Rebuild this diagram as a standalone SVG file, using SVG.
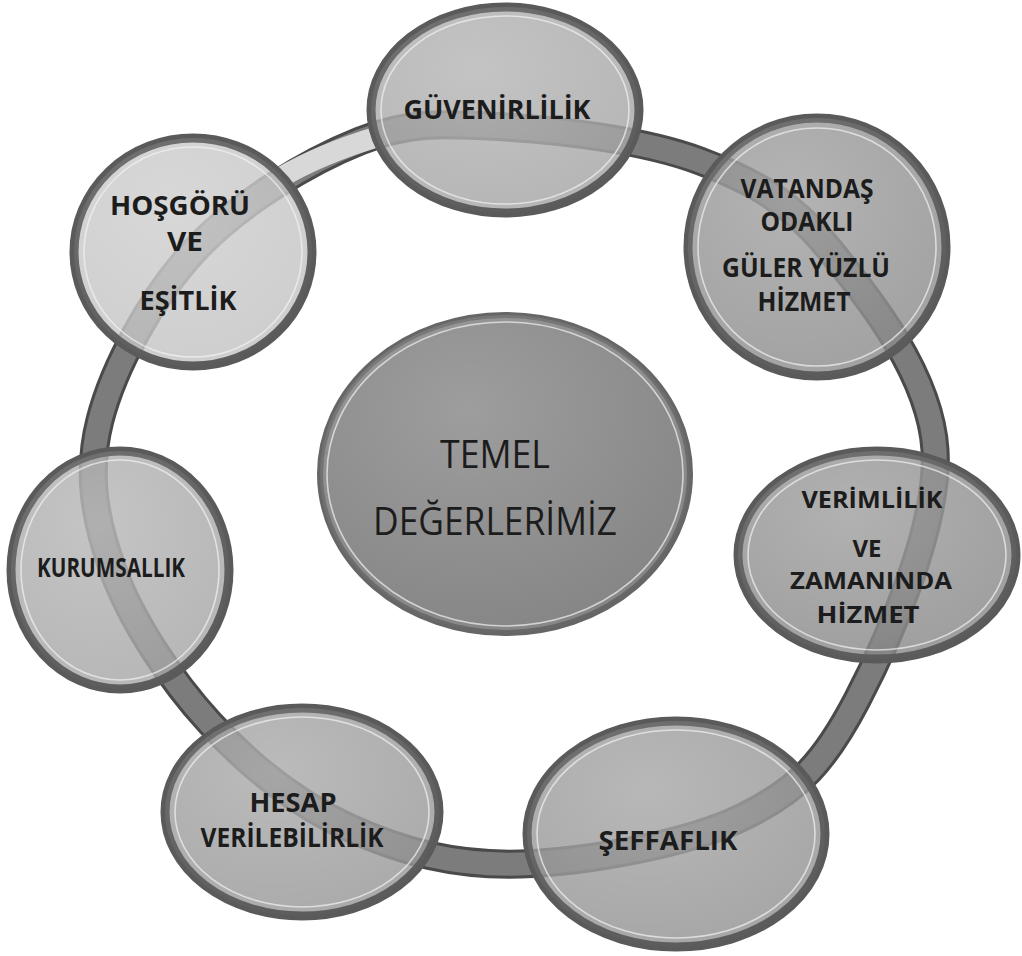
<svg xmlns="http://www.w3.org/2000/svg" width="1022" height="956" viewBox="0 0 1022 956">
<defs>
<radialGradient id="sheen" cx="0.4" cy="0.3" r="0.75">
<stop offset="0" stop-color="#ffffff" stop-opacity="0.2"/>
<stop offset="1" stop-color="#ffffff" stop-opacity="0"/>
</radialGradient>
</defs>
<style>
.rim{stroke:#5a5a5a;stroke-width:9}
.body{fill-opacity:.8}
.sheen{fill:url(#sheen);stroke:none}
.hl{fill:none;stroke:#f2f2f2;stroke-width:1.6;stroke-opacity:.7}
.lbl{font-family:"Open Sans","Liberation Sans",sans-serif;font-weight:700;font-size:26px;fill:#1c1c1c;text-anchor:middle}
.sm{font-size:24px}
.ctr{font-family:"Open Sans","Liberation Sans",sans-serif;font-size:39px;fill:#1c1c1c;text-anchor:middle}
.band-edge{fill:none;stroke:#4a4a4a;stroke-width:29}
.band{fill:none;stroke:#7c7c7c;stroke-width:23}
.band-light{fill:none;stroke:#d8d8d8;stroke-width:21}
</style>
<rect width="1022" height="956" fill="#ffffff"/>
<g id="connectors">
<path id="ring-edge" class="band-edge" d="M505,127 C561.7,130.3 645.8,140.5 700,161 C754.2,181.5 790.8,201.8 830,250 C869.2,298.2 930.5,375 935,450 C939.5,525 889,638.8 857,700 C825,761.2 799.2,789.7 743,817 C686.8,844.3 585.5,862.2 520,864 C454.5,865.8 401.7,851.5 350,828 C298.3,804.5 249.5,766 210,723 C170.5,680 131.3,620.5 113,570 C94.7,519.5 86.3,473.3 100,420 C113.7,366.7 151.7,296.5 195,250 C238.3,203.5 308.3,161.5 360,141 C411.7,120.5 448.3,123.7 505,127 Z"/>
<path id="ring" class="band" d="M505,127 C561.7,130.3 645.8,140.5 700,161 C754.2,181.5 790.8,201.8 830,250 C869.2,298.2 930.5,375 935,450 C939.5,525 889,638.8 857,700 C825,761.2 799.2,789.7 743,817 C686.8,844.3 585.5,862.2 520,864 C454.5,865.8 401.7,851.5 350,828 C298.3,804.5 249.5,766 210,723 C170.5,680 131.3,620.5 113,570 C94.7,519.5 86.3,473.3 100,420 C113.7,366.7 151.7,296.5 195,250 C238.3,203.5 308.3,161.5 360,141 C411.7,120.5 448.3,123.7 505,127 Z"/>
<path id="ring-light" class="band-light" d="M280,178 C310,160 340,148 380,136"/>
</g>
<g id="node-guvenirlilik">
<ellipse class="rim body" cx="505" cy="110" rx="134" ry="103" fill="#a2a2a2"/>
<ellipse class="sheen" cx="505" cy="110" rx="134" ry="103"/>
<ellipse class="hl" cx="505" cy="110" rx="124" ry="94"/>
<text class="lbl" x="497" y="119" textLength="187" lengthAdjust="spacingAndGlyphs">GÜVENİRLİLİK</text>
</g>
<g id="node-vatandas">
<ellipse class="rim body" cx="817" cy="247" rx="129" ry="129" fill="#8a8a8a"/>
<ellipse class="sheen" cx="817" cy="247" rx="129" ry="129"/>
<ellipse class="hl" cx="817" cy="247" rx="119" ry="119"/>
<text class="lbl" x="807" y="198" textLength="133" lengthAdjust="spacingAndGlyphs">VATANDAŞ</text>
<text class="lbl" x="807" y="231" textLength="93" lengthAdjust="spacingAndGlyphs">ODAKLI</text>
<text class="lbl" x="806" y="277" textLength="168" lengthAdjust="spacingAndGlyphs">GÜLER YÜZLÜ</text>
<text class="lbl" x="804" y="311" textLength="93" lengthAdjust="spacingAndGlyphs">HİZMET</text>
</g>
<g id="node-verimlilik">
<ellipse class="rim body" cx="877" cy="555" rx="139" ry="104" fill="#868686"/>
<ellipse class="sheen" cx="877" cy="555" rx="139" ry="104"/>
<ellipse class="hl" cx="877" cy="555" rx="129" ry="95"/>
<text class="lbl sm" x="872" y="508" textLength="141" lengthAdjust="spacingAndGlyphs">VERİMLİLİK</text>
<text class="lbl sm" x="867" y="557" textLength="29" lengthAdjust="spacingAndGlyphs">VE</text>
<text class="lbl sm" x="871" y="589" textLength="162" lengthAdjust="spacingAndGlyphs">ZAMANINDA</text>
<text class="lbl sm" x="868" y="623" textLength="103" lengthAdjust="spacingAndGlyphs">HİZMET</text>
</g>
<g id="node-seffaflik">
<ellipse class="rim body" cx="676" cy="834" rx="149" ry="113" fill="#909090"/>
<ellipse class="sheen" cx="676" cy="834" rx="149" ry="113"/>
<ellipse class="hl" cx="676" cy="834" rx="139" ry="104"/>
<text class="lbl" x="668" y="850" textLength="139" lengthAdjust="spacingAndGlyphs">ŞEFFAFLIK</text>
</g>
<g id="node-hesap">
<ellipse class="rim body" cx="302" cy="812" rx="137" ry="104" fill="#959595"/>
<ellipse class="sheen" cx="302" cy="812" rx="137" ry="104"/>
<ellipse class="hl" cx="302" cy="812" rx="127" ry="95"/>
<text class="lbl" x="293" y="812" textLength="87" lengthAdjust="spacingAndGlyphs">HESAP</text>
<text class="lbl" x="292" y="847" textLength="183" lengthAdjust="spacingAndGlyphs">VERİLEBİLİRLİK</text>
</g>
<g id="node-kurumsallik">
<ellipse class="rim body" cx="120" cy="570" rx="109" ry="119" fill="#a4a4a4"/>
<ellipse class="sheen" cx="120" cy="570" rx="109" ry="119"/>
<ellipse class="hl" cx="120" cy="570" rx="99" ry="110"/>
<text class="lbl" x="111" y="577" textLength="148" lengthAdjust="spacingAndGlyphs">KURUMSALLIK</text>
</g>
<g id="node-hosgoru">
<ellipse class="rim body" cx="193" cy="252" rx="119" ry="114" fill="#c2c2c2"/>
<ellipse class="sheen" cx="193" cy="252" rx="119" ry="114"/>
<ellipse class="hl" cx="193" cy="252" rx="109" ry="105"/>
<text class="lbl" x="180" y="215" textLength="140" lengthAdjust="spacingAndGlyphs">HOŞGÖRÜ</text>
<text class="lbl" x="185" y="251" textLength="36" lengthAdjust="spacingAndGlyphs">VE</text>
<text class="lbl" x="188" y="310" textLength="97" lengthAdjust="spacingAndGlyphs">EŞİTLİK</text>
</g>
<g id="node-temel">
<ellipse cx="505" cy="474" rx="185" ry="159" fill="#858585" stroke="#666666" stroke-width="6"/>
<ellipse class="sheen" cx="505" cy="474" rx="185" ry="159"/>
<ellipse class="hl" cx="505" cy="474" rx="178" ry="152"/>
<text class="ctr" x="495" y="468" textLength="110" lengthAdjust="spacingAndGlyphs">TEMEL</text>
<text class="ctr" x="495" y="535" textLength="244" lengthAdjust="spacingAndGlyphs">DEĞERLERİMİZ</text>
</g>
</svg>
